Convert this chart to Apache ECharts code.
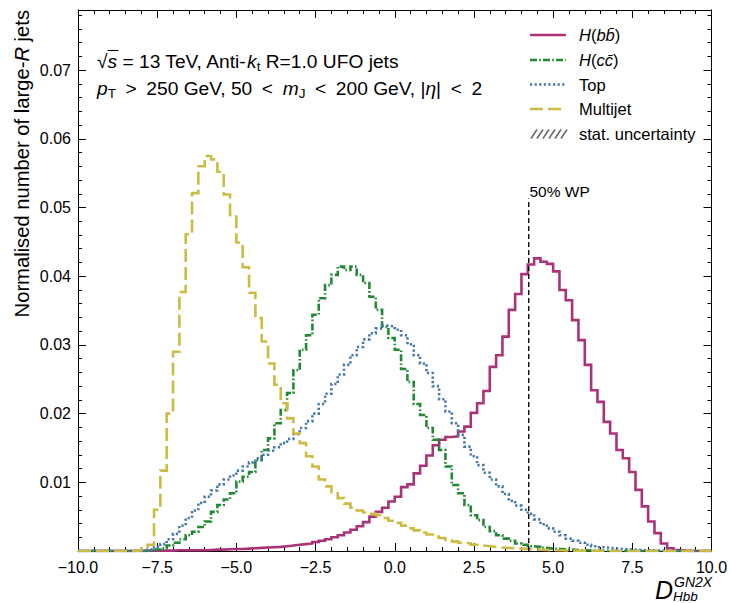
<!DOCTYPE html>
<html><head><meta charset="utf-8">
<script src="https://cdn.jsdelivr.net/npm/echarts@6/dist/echarts.min.js"></script>
<style>html,body{margin:0;padding:0;background:#fff}#c{width:731px;height:603px}</style>
</head><body><div id="c"></div>
<script>
// ---- data (bin width 0.2 from -10 to 10, 100 bins; value = normalised fraction) ----
const xMin = -10, xMax = 10, binWidth = 0.2;
const yMax = 0.07875;
const xTickStep = 2.5, yTickStep = 0.01, yMinorStep = 0.002;

const hbb = [
0,0,0,0,0,0,0,0,0,0,
0.00005,0.00005,0.00005,0.00005,0.00005,0.0001,0.0001,0.0001,0.0001,0.0001,
0.00015,0.0002,0.0002,0.00025,0.0003,0.0003,0.00035,0.0004,0.00045,0.0005,
0.00055,0.0006,0.0007,0.0008,0.0009,0.0010,0.0011,0.0013,0.0015,0.0017,
0.0020,0.0023,0.0027,0.0031,0.0036,0.0042,0.0050,0.0057,0.0063,0.0072,
0.0079,0.0093,0.0097,0.0113,0.0124,0.0139,0.0154,0.0162,0.0166,0.0167,
0.0174,0.0181,0.0201,0.0215,0.0233,0.0268,0.0285,0.0312,0.0351,0.0374,
0.0403,0.0417,0.0426,0.0421,0.0418,0.0407,0.0380,0.0365,0.0336,0.0307,
0.0271,0.0234,0.0217,0.0188,0.0171,0.0147,0.0135,0.0115,0.0089,0.0065,
0.0043,0.0026,0.0011,0.0004,0.00015,0.00005,0,0,0,0
];
const hcc = [
0,0,0,0,0,0,0,0,0,0,
0,0,0.0002,0.0004,0.0008,0.0012,0.0017,0.0023,0.0028,0.0035,
0.0043,0.0057,0.0067,0.0075,0.0084,0.0101,0.0108,0.0115,0.0132,0.0147,
0.0164,0.0186,0.0205,0.0230,0.0263,0.0293,0.0314,0.0344,0.0368,0.0387,
0.0402,0.0414,0.0409,0.0414,0.0402,0.0390,0.0370,0.0351,0.0326,0.0310,
0.0293,0.0265,0.0246,0.0214,0.0198,0.0179,0.0162,0.0147,0.0123,0.0096,
0.0084,0.0067,0.0052,0.0045,0.0035,0.0029,0.0023,0.0018,0.0015,0.0011,
0.0009,0.0007,0.0006,0.00045,0.00035,0.0003,0.00025,0.0002,0.00015,0.0001,
0.00008,0.00005,0.00003,0.00002,0.00001,0,0,0,0,0,
0,0,0,0,0,0,0,0,0,0
];
const topq = [
0,0,0,0,0,0,0,0,0,0,
0,0.0002,0.0006,0.0010,0.0017,0.0025,0.0037,0.0048,0.0059,0.0070,
0.0079,0.0088,0.0097,0.0104,0.0110,0.0117,0.0123,0.0129,0.0135,0.0140,
0.0146,0.0151,0.0157,0.0163,0.0170,0.0179,0.0189,0.0200,0.0214,0.0229,
0.0243,0.0257,0.0271,0.0285,0.0297,0.0308,0.0317,0.0324,0.0328,0.0327,
0.0322,0.0314,0.0301,0.0285,0.0273,0.0259,0.0240,0.0221,0.0203,0.0186,
0.0169,0.0152,0.0138,0.0125,0.0114,0.0104,0.0094,0.0083,0.0073,0.0066,
0.0060,0.0054,0.0046,0.0039,0.0033,0.0028,0.0023,0.0018,0.0015,0.0012,
0.0009,0.0007,0.00055,0.00045,0.00035,0.0003,0.00025,0.0002,0.00015,0.0001,
0.00008,0.00005,0.00003,0.00002,0.00001,0,0,0,0,0
];
const multijet = [
0,0,0,0,0,0,0,0,0,0.0001,
0.0004,0.0009,0.0060,0.0117,0.0200,0.0290,0.0377,0.0461,0.0521,0.0560,
0.0575,0.0570,0.0552,0.0519,0.0489,0.0449,0.0413,0.0376,0.0339,0.0305,
0.0273,0.0242,0.0215,0.0193,0.0171,0.0157,0.0138,0.0123,0.0104,0.0094,
0.0084,0.0077,0.0069,0.0063,0.0059,0.0056,0.0054,0.0052,0.0048,0.0044,
0.0041,0.0037,0.0033,0.0030,0.0027,0.0024,0.0021,0.0019,0.0016,0.0014,
0.0012,0.0011,0.0009,0.0008,0.0007,0.0006,0.0005,0.00045,0.0004,0.00035,
0.0003,0.00025,0.0002,0.00015,0.00012,0.0001,0.00008,0.00006,0.00005,0.00004,
0.00003,0.00002,0.00002,0.00001,0.00001,0,0,0,0,0,
0,0,0,0,0,0,0,0,0,0
];
const wpCut = 4.23;       // 50% WP cut value
const wpLineTop = 0.0513; // height of WP marker line

const seriesNames = ['H(bb\u0304)', 'H(cc\u0304)', 'Top', 'Multijet'];
const SP = '\u2002'; // wider (math-relation) space
const annotation1 = ['\u221A', 's', ' = 13 TeV, Anti-', 'k', 't', ' R=1.0 UFO jets'];
const annotation2 = ['p', 'T', SP + '>' + SP + '250 GeV, 50' + SP + '<' + SP, 'm', 'J', SP + '<' + SP + '200 GeV, |', '\u03B7', '|' + SP + '<' + SP + '2'];
const yTitle = ['Normalised number of large-', 'R', ' jets'];
const wpText = '50% WP';
const uncText = 'stat. uncertainty';

// ---- styling ----
const FONT = 'Liberation Sans, Arial, sans-serif';
const C_HBB = '#AA3377', C_HCC = '#228833', C_TOP = '#4477AA', C_MJ = '#CCBB44';
const LW = 2.6;
const DASH_HCC = [7, 2.2, 1.6, 2.2];
const DASH_TOP = [2.2, 2.4];
const DASH_MJ = [13, 5];

const edges = [];
for (let i = 0; i <= hbb.length; i++) edges.push(+(xMin + i * binWidth).toFixed(2));
function stepData(vals) {
  return vals.map((v, i) => [edges[i], v]).concat([[edges[vals.length], 0]]);
}

const chart = echarts.init(document.getElementById('c'), null, {renderer: 'svg'});

function minus(v) { return (v < 0 ? '\u2212' : '') + Math.abs(v).toFixed(1); }

const axisLineStyle = {color: '#000', width: 1};
function xAx(pos, showLabel) {
  return {
    type: 'value', min: xMin, max: xMax, interval: xTickStep, position: pos,
    axisLine: {show: true, onZero: false, lineStyle: axisLineStyle},
    axisTick: {show: true, inside: true, length: 8, lineStyle: {color: '#000', width: 1}},
    minorTick: {show: true, splitNumber: 5, length: 4, lineStyle: {color: '#000', width: 1}},
    axisLabel: {show: showLabel, color: '#000', fontSize: 16, fontFamily: FONT, margin: 8, formatter: minus, showMinLabel: true, showMaxLabel: true, hideOverlap: false},
    splitLine: {show: false}, minorSplitLine: {show: false}
  };
}
function yAx(pos, step, tickLen, showLabel) {
  return {
    type: 'value', min: 0, max: yMax, interval: step, position: pos, offset: 0,
    axisLine: {show: true, onZero: false, lineStyle: axisLineStyle},
    axisTick: {show: true, inside: true, length: tickLen, lineStyle: {color: '#000', width: 1}},
    axisLabel: {show: showLabel, color: '#000', fontSize: 16, fontFamily: FONT, margin: 7,
      showMinLabel: false, showMaxLabel: false, hideOverlap: false,
      formatter: v => (v === 0 ? '' : v.toFixed(2))},
    splitLine: {show: false}
  };
}

function histSeries(name, vals, color, dash) {
  return {
    type: 'line', name: name, data: stepData(vals), step: 'end', symbol: 'none',
    xAxisIndex: 0, yAxisIndex: 0, silent: true, animation: false, clip: true,
    lineStyle: {color: color, width: LW, type: dash || 'solid', cap: 'butt', join: 'miter'}
  };
}

// legend & texts
const LX0 = 530, LX1 = 566, LTX = 579;
const legendRows = [35, 60, 84.5, 109, 134];
const richBase = {
  n: {fontSize: 16.5, fontFamily: FONT, fill: '#000', lineHeight: 20},
  i: {fontSize: 16.5, fontFamily: FONT, fontStyle: 'italic', fill: '#000', lineHeight: 20}
};
function legendLine(y, color, dash) {
  return {type: 'line', shape: {x1: LX0, y1: y, x2: LX1, y2: y}, silent: true,
    style: {stroke: color, lineWidth: LW, lineDash: dash || null, lineCap: 'butt'}};
}
function legendText(y, text) {
  return {type: 'text', x: LTX, y: y, silent: true,
    style: {text: text, rich: richBase, verticalAlign: 'middle', align: 'left', fontSize: 16.5, fontFamily: FONT, fill: '#000'}};
}
const hatch = [];
for (let k = 0; k < 6; k++) {
  hatch.push({type: 'line', silent: true, shape: {x1: LX0 + 1 + k * 6, y1: legendRows[4] + 4.5, x2: LX0 + 7 + k * 6, y2: legendRows[4] - 4.5},
    style: {stroke: '#666', lineWidth: 1.5}});
}

const AF = 19.2;
const annRich = {
  n: {fontSize: AF, fontFamily: FONT, fill: '#000', lineHeight: 24},
  i: {fontSize: AF, fontFamily: FONT, fontStyle: 'italic', fill: '#000', lineHeight: 24},
  s: {fontSize: 13.5, fontFamily: FONT, fill: '#000', lineHeight: 13, verticalAlign: 'bottom'}
};
const a1 = `{n|${annotation1[0]}}{i|${annotation1[1]}}{n|${annotation1[2]}}{i|${annotation1[3]}}{s|${annotation1[4]}}{n|${annotation1[5]}}`;
const a2 = `{i|${annotation2[0]}}{s|${annotation2[1]}}{n|${annotation2[2]}}{i|${annotation2[3]}}{s|${annotation2[4]}}{n|${annotation2[5]}}{i|${annotation2[6]}}{n|${annotation2[7]}}`;

const graphics = [
  {type: 'text', x: 97, y: 61, silent: true, style: {text: a1, rich: annRich, verticalAlign: 'middle', align: 'left'}},
  {type: 'line', silent: true, shape: {x1: 107.5, y1: 50.5, x2: 118.5, y2: 50.5}, style: {stroke: '#000', lineWidth: 1.1}},
  {type: 'text', x: 97, y: 88, silent: true, style: {text: a2, rich: annRich, verticalAlign: 'middle', align: 'left'}},
  legendLine(legendRows[0], C_HBB), legendText(legendRows[0], '{i|H}{n|(}{i|bb\u0304}{n|)}'),
  legendLine(legendRows[1], C_HCC, DASH_HCC), legendText(legendRows[1], '{i|H}{n|(}{i|cc\u0304}{n|)}'),
  legendLine(legendRows[2], C_TOP, DASH_TOP), legendText(legendRows[2], '{n|' + seriesNames[2] + '}'),
  legendLine(legendRows[3], C_MJ, DASH_MJ), legendText(legendRows[3], '{n|' + seriesNames[3] + '}'),
  ...hatch, legendText(legendRows[4], '{n|' + uncText + '}'),
  {type: 'text', x: 529.5, y: 191, silent: true, style: {text: wpText, fontSize: 15.5, fontFamily: FONT, fill: '#000', verticalAlign: 'middle', align: 'left'}},
  {type: 'text', x: 22, y: 10, rotation: Math.PI / 2, silent: true,
    style: {text: `{n|${yTitle[0]}}{i|${yTitle[1]}}{n|${yTitle[2]}}`, align: 'right', verticalAlign: 'middle',
      rich: {n: {fontSize: 20.2, fontFamily: FONT, fill: '#000'}, i: {fontSize: 20.2, fontFamily: FONT, fontStyle: 'italic', fill: '#000'}}}},
  {type: 'text', x: 655, y: 589.5, silent: true, style: {text: 'D', fontSize: 25, fontStyle: 'italic', fontFamily: FONT, fill: '#000', verticalAlign: 'middle', align: 'left'}},
  {type: 'text', x: 674, y: 581.5, silent: true, style: {text: 'GN2X', fontSize: 14, fontStyle: 'italic', fontFamily: FONT, fill: '#000', verticalAlign: 'middle', align: 'left'}},
  {type: 'text', x: 673, y: 596, silent: true, style: {text: 'Hbb', fontSize: 13.5, fontStyle: 'italic', fontFamily: FONT, fill: '#000', verticalAlign: 'middle', align: 'left'}}
];

const option = {
  animation: false,
  backgroundColor: '#fff',
  grid: {left: 78, right: 19.5, top: 10, bottom: 52, containLabel: false, outerBoundsMode: 'none'},
  xAxis: [xAx('bottom', true), xAx('top', false)],
  yAxis: [yAx('left', yTickStep, 8, true), yAx('left', yMinorStep, 4, false), yAx('right', yTickStep, 8, false), yAx('right', yMinorStep, 4, false)],
  series: [
    histSeries(seriesNames[0], hbb, C_HBB),
    histSeries(seriesNames[1], hcc, C_HCC, DASH_HCC),
    histSeries(seriesNames[2], topq, C_TOP, DASH_TOP),
    histSeries(seriesNames[3], multijet, C_MJ, DASH_MJ),
    {type: 'line', name: wpText, data: [[wpCut, 0], [wpCut, wpLineTop]], symbol: 'none', silent: true,
      lineStyle: {color: '#000', width: 1.4, type: [5, 3]}, xAxisIndex: 0, yAxisIndex: 0}
  ],
  graphic: graphics
};
chart.setOption(option);
</script></body></html>
